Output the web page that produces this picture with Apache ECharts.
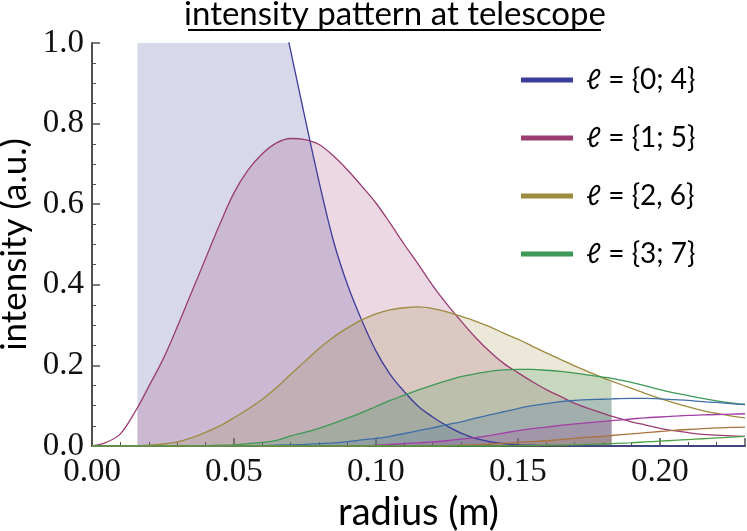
<!DOCTYPE html>
<html>
<head>
<meta charset="utf-8">
<script src="https://cdn.jsdelivr.net/npm/echarts@6/dist/echarts.min.js"></script>
<style>
  html, body { margin: 0; padding: 0; background: #fff; }
  #chart { width: 747px; height: 531px; }
</style>
</head>
<body>
<div id="chart"></div>
<script>
// ---- data ----
const radius = [0, 0.005, 0.01, 0.016, 0.02, 0.025, 0.03, 0.035, 0.04, 0.045,
  0.05, 0.055, 0.06, 0.065, 0.07, 0.075, 0.08, 0.085, 0.09, 0.095,
  0.1, 0.105, 0.11, 0.115, 0.12, 0.125, 0.13, 0.135, 0.14, 0.145,
  0.15, 0.155, 0.16, 0.165, 0.17, 0.175, 0.18, 0.183, 0.19, 0.195,
  0.2, 0.205, 0.21, 0.215, 0.22, 0.225, 0.23];

const intensityL0 = [3.75, 3.7, 3.55, 3.32, 3.15, 2.92, 2.66, 2.4, 2.14, 1.9,
  1.68, 1.48, 1.3, 1.14, 0.98, 0.815, 0.655, 0.51, 0.4, 0.312,
  0.236, 0.178, 0.135, 0.098, 0.072, 0.05, 0.032, 0.019, 0.011, 0.006,
  0.003, 0.002, 0.001, 0.001, 0, 0, 0, 0, 0, 0,
  0, 0, 0, 0, 0, 0, 0];
const intensityL1 = [0, 0.009, 0.03, 0.095, 0.148, 0.215, 0.295, 0.38, 0.465, 0.55,
  0.628, 0.685, 0.725, 0.752, 0.763, 0.76, 0.748, 0.72, 0.685, 0.645,
  0.603, 0.553, 0.5, 0.45, 0.398, 0.352, 0.31, 0.27, 0.235, 0.205,
  0.182, 0.16, 0.14, 0.123, 0.106, 0.093, 0.081, 0.074, 0.06, 0.052,
  0.044, 0.038, 0.033, 0.029, 0.027, 0.025, 0.024];
const intensityL2 = [0, 0, 0, 0.001, 0.002, 0.005, 0.01, 0.02, 0.034, 0.05,
  0.07, 0.092, 0.116, 0.145, 0.178, 0.21, 0.242, 0.27, 0.293, 0.313,
  0.328, 0.338, 0.343, 0.345, 0.341, 0.333, 0.322, 0.31, 0.296, 0.28,
  0.265, 0.248, 0.231, 0.215, 0.199, 0.184, 0.169, 0.161, 0.143, 0.13,
  0.118, 0.107, 0.097, 0.088, 0.081, 0.075, 0.07];
const intensityL3 = [0, 0, 0, 0, 0, 0, 0, 0, 0.001, 0.002,
  0.003, 0.006, 0.009, 0.014, 0.025, 0.034, 0.044, 0.056, 0.069, 0.083,
  0.098, 0.113, 0.126, 0.139, 0.151, 0.162, 0.172, 0.179, 0.185, 0.189,
  0.19, 0.19, 0.188, 0.185, 0.181, 0.176, 0.171, 0.168, 0.158, 0.149,
  0.14, 0.132, 0.125, 0.118, 0.112, 0.107, 0.103];
const intensityL4 = [0, 0, 0, 0, 0, 0, 0, 0, 0, 0,
  0, 0, 0.001, 0.002, 0.003, 0.004, 0.006, 0.008, 0.011, 0.015,
  0.019, 0.024, 0.031, 0.038, 0.045, 0.053, 0.06, 0.069, 0.077, 0.085,
  0.093, 0.1, 0.105, 0.11, 0.113, 0.115, 0.116, 0.117, 0.118, 0.118,
  0.117, 0.115, 0.113, 0.11, 0.108, 0.105, 0.103];
const intensityL5 = [0, 0, 0, 0, 0, 0, 0, 0, 0, 0,
  0, 0, 0, 0, 0, 0, 0, 0, 0, 0,
  0.002, 0.004, 0.006, 0.008, 0.01, 0.013, 0.017, 0.021, 0.026, 0.032,
  0.038, 0.043, 0.047, 0.051, 0.055, 0.058, 0.061, 0.063, 0.067, 0.07,
  0.072, 0.074, 0.076, 0.077, 0.078, 0.079, 0.08];
const intensityL6 = [0, 0, 0, 0, 0, 0, 0, 0, 0, 0,
  0, 0, 0, 0, 0, 0, 0, 0, 0, 0,
  0, 0, 0, 0, 0, 0, 0.002, 0.003, 0.005, 0.007,
  0.009, 0.011, 0.013, 0.016, 0.019, 0.022, 0.024, 0.026, 0.03, 0.033,
  0.036, 0.039, 0.041, 0.043, 0.045, 0.046, 0.047];
const intensityL7 = [0, 0, 0, 0, 0, 0, 0, 0, 0, 0,
  0, 0, 0, 0, 0, 0, 0, 0, 0, 0,
  0, 0, 0, 0, 0, 0, 0, 0, 0, 0,
  0.001, 0.001, 0.002, 0.002, 0.003, 0.004, 0.005, 0.006, 0.008, 0.01,
  0.012, 0.014, 0.016, 0.018, 0.02, 0.022, 0.024];

// telescope aperture (shaded radial range), in metres
const apertureInner = 0.016;
const apertureOuter = 0.183;

const legendNames = ['ℓ = {0; 4}', 'ℓ = {1; 5}', 'ℓ = {2, 6}', 'ℓ = {3; 7}'];
const xTicks = [0, 0.05, 0.1, 0.15, 0.2];
const yTicks = [0, 0.2, 0.4, 0.6, 0.8, 1.0];

// ---- styling ----
const curves = [
  { name: legendNames[0], color: '#3c3c9a', values: intensityL0 },
  { name: legendNames[1], color: '#993d72', values: intensityL1 },
  { name: legendNames[2], color: '#9d8b3f', values: intensityL2 },
  { name: legendNames[3], color: '#3d9955', values: intensityL3 },
  { name: legendNames[0], color: '#3f6ea8', values: intensityL4 },
  { name: legendNames[1], color: '#a23ea6', values: intensityL5 },
  { name: legendNames[2], color: '#a8733f', values: intensityL6 },
  { name: legendNames[3], color: '#4ca043', values: intensityL7 }
];

const series = [];
curves.forEach((c, k) => {
  const pts = radius.map((r, i) => [r, c.values[i]]);
  series.push({
    name: 'fill' + k,
    type: 'line',
    data: pts.filter(p => p[0] >= apertureInner - 1e-9 && p[0] <= apertureOuter + 1e-9),
    smooth: 0.35,
    showSymbol: false,
    silent: true,
    lineStyle: { width: 0 },
    itemStyle: { color: c.color },
    areaStyle: { color: c.color, opacity: 0.2 },
    z: 2
  });
});
curves.forEach((c) => {
  series.push({
    name: c.name,
    type: 'line',
    data: radius.map((r, i) => [r, c.values[i]]),
    smooth: 0.35,
    showSymbol: false,
    lineStyle: { width: 1.3, color: c.color },
    itemStyle: { color: c.color },
    z: 3
  });
});

const axisColor = '#505050';
const chart = echarts.init(document.getElementById('chart'), null, { renderer: 'canvas' });
chart.setOption({
  animation: false,
  backgroundColor: '#ffffff',
  title: {
    text: 'intensity pattern at telescope',
    left: 395, top: -2, textAlign: 'center', padding: 0,
    textStyle: { fontFamily: 'Lato', fontSize: 33, fontWeight: 'normal', color: '#000' }
  },
  graphic: [{
    type: 'line', silent: true,
    shape: { x1: 188, y1: 30, x2: 601, y2: 30 },
    style: { stroke: '#000', lineWidth: 2 }
  }],
  legend: {
    data: legendNames,
    orient: 'vertical',
    left: 516, top: 60,
    icon: 'rect',
    itemWidth: 52, itemHeight: 5,
    itemGap: 28,
    textStyle: { fontFamily: 'Lato, "DejaVu Sans"', fontSize: 28, color: '#000', lineHeight: 30, padding: [0, 0, 0, 8] }
  },
  grid: { left: 92, right: 2, top: 43, bottom: 85, containLabel: false, outerBoundsMode: 'none' },
  xAxis: {
    type: 'value', min: 0, max: 0.23, interval: 0.05,
    name: 'radius (m)', nameLocation: 'middle', nameGap: 46,
    nameTextStyle: { fontFamily: 'Lato', fontSize: 38, color: '#000' },
    axisLine: { lineStyle: { color: axisColor, width: 2 } },
    axisTick: { inside: true, length: 8, lineStyle: { color: axisColor, width: 1.5 } },
    minorTick: { show: true, splitNumber: 5, length: 4, lineStyle: { color: axisColor, width: 1 } },
    splitLine: { show: false },
    axisLabel: {
      fontFamily: 'Liberation Serif', fontSize: 33, color: '#111', margin: 10, showMaxLabel: false,
      formatter: v => (xTicks.some(t => Math.abs(t - v) < 1e-9) ? v.toFixed(2) : '')
    }
  },
  yAxis: {
    type: 'value', min: 0, max: 1, interval: 0.2,
    name: 'intensity (a.u.)', nameLocation: 'middle', nameGap: 53,
    nameTextStyle: { fontFamily: 'Lato', fontSize: 35, color: '#000' },
    axisLine: { show: true, lineStyle: { color: axisColor, width: 2 } },
    axisTick: { show: true, inside: true, length: 8, lineStyle: { color: axisColor, width: 1.5 } },
    minorTick: { show: true, splitNumber: 4, length: 4, lineStyle: { color: axisColor, width: 1 } },
    splitLine: { show: false },
    axisLabel: {
      fontFamily: 'Liberation Serif', fontSize: 33, color: '#111', margin: 8,
      formatter: v => (yTicks.some(t => Math.abs(t - v) < 1e-9) ? v.toFixed(1) : '')
    }
  },
  series: series
});
</script>
</body>
</html>
